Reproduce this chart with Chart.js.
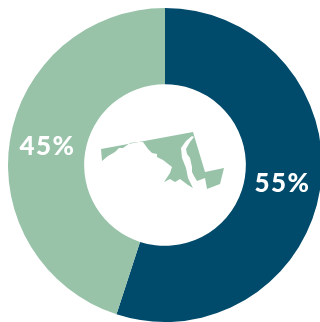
<!DOCTYPE html>
<html>
<head>
<meta charset="utf-8">
<script src="https://cdn.jsdelivr.net/npm/chart.js@4"></script>
<style>
  html, body { margin: 0; padding: 0; background: #fff; overflow: hidden; }
  #wrap { position: absolute; left: 0; top: 0; width: 330px; height: 330px; }
</style>
</head>
<body>
<div id="wrap"><canvas id="myChart" width="330" height="330"></canvas></div>
<script>
const categories = ['Yes', 'No'];
const values = [55, 45];
const colors = ['#004b6b', '#98c3a9'];

// outline of the state in the hole, page pixels (bay is the notch on the right)
const stateOutline = [[101,149],[193,132],[205,172],[224,168],[220,184],[207,189],[205,178],[197,181],[194,176],[192,172],[192,167],[190,158],[187,154],[186,149],[190,142],[194,137],[192,136],[186,141],[181,148],[182,158],[186,168],[188,178],[193,188],[188,185],[180,179],[175,182],[170,179],[164,182],[170,173],[172,167],[163,160],[157,157],[157,154],[152,153],[148,149],[143,142],[137,142],[130,143],[123,148],[119,148],[115,152],[108,156],[102,161]];

const drawPoly = (ctx, pts, color) => {
  ctx.beginPath();
  pts.forEach((p, i) => i ? ctx.lineTo(p[0], p[1]) : ctx.moveTo(p[0], p[1]));
  ctx.closePath();
  ctx.fillStyle = color;
  ctx.fill();
};

const labelsAndMap = {
  id: 'labelsAndMap',
  afterDraw(chart) {
    const ctx = chart.ctx;
    ctx.save();
    drawPoly(ctx, stateOutline, colors[1]);
    ctx.font = '900 26px Lato';
    ctx.letterSpacing = '1.5px';
    ctx.fillStyle = '#ffffff';
    ctx.textAlign = 'center';
    ctx.textBaseline = 'middle';
    chart.getDatasetMeta(0).data.forEach((arc, i) => {
      const pos = arc.tooltipPosition();
      ctx.fillText(values[i] + '%', pos.x, pos.y);
    });
    ctx.restore();
  }
};

new Chart(document.getElementById('myChart'), {
  type: 'doughnut',
  data: {
    labels: categories,
    datasets: [{
      data: values,
      backgroundColor: colors,
      borderWidth: 0
    }]
  },
  options: {
    responsive: false,
    animation: false,
    cutout: '51.5%',
    layout: { padding: 8 },
    plugins: {
      legend: { display: false },
      tooltip: { enabled: false }
    }
  },
  plugins: [labelsAndMap]
});
</script>
</body>
</html>
